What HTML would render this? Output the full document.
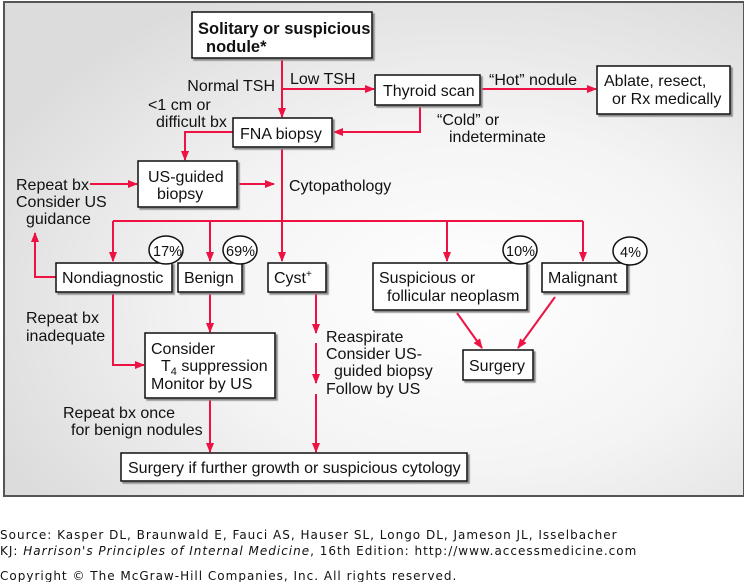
<!DOCTYPE html>
<html><head><meta charset="utf-8"><style>
html,body{margin:0;padding:0;background:#fff;width:744px;height:582px;overflow:hidden}
svg{display:block}
text{font-family:"Liberation Sans",Arial,sans-serif;font-size:16px;fill:#111}
.f{font-family:"DejaVu Sans",Verdana,sans-serif;font-size:12px;fill:#111;letter-spacing:1px}
</style></head><body>
<svg width="744" height="582" viewBox="0 0 744 582">
<defs>
<radialGradient id="bg" cx="0.62" cy="0.6" r="0.7">
<stop offset="0" stop-color="#ffffff"/><stop offset="0.5" stop-color="#f4f4f4"/><stop offset="1" stop-color="#dcdcdc"/>
</radialGradient>
<marker id="a" markerWidth="10" markerHeight="8" refX="9" refY="4" orient="auto" markerUnits="userSpaceOnUse">
<path d="M0,0 L10,4 L0,8 Z" fill="#ee1144"/></marker>
<filter id="sh"><feDropShadow dx="2" dy="2" stdDeviation="0.6" flood-color="#888"/></filter>
</defs>
<rect x="4" y="2" width="740" height="494" fill="url(#bg)" stroke="#555" stroke-width="2"/>
<g stroke="#ee1144" stroke-width="2" fill="none">
<line x1="282" y1="58" x2="282" y2="117" marker-end="url(#a)"/>
<line x1="282" y1="89" x2="374" y2="89" marker-end="url(#a)"/>
<line x1="480" y1="89" x2="596" y2="89" marker-end="url(#a)"/>
<polyline points="420,104 420,132 334,132" marker-end="url(#a)"/>
<polyline points="233,132 185,132 185,160" marker-end="url(#a)"/>
<line x1="237" y1="184" x2="274" y2="184" marker-end="url(#a)"/>
<line x1="90" y1="184" x2="137" y2="184" marker-end="url(#a)"/>
<line x1="282" y1="147" x2="282" y2="261" marker-end="url(#a)"/>
<line x1="113" y1="221" x2="583" y2="221"/>
<line x1="113" y1="221" x2="113" y2="261" marker-end="url(#a)"/>
<line x1="210" y1="221" x2="210" y2="261" marker-end="url(#a)"/>
<line x1="447" y1="221" x2="447" y2="261" marker-end="url(#a)"/>
<line x1="583" y1="221" x2="583" y2="261" marker-end="url(#a)"/>
<polyline points="56,277 35,277 35,233" marker-end="url(#a)"/>
<polyline points="113,292 113,365 144,365" marker-end="url(#a)"/>
<line x1="210" y1="292" x2="210" y2="332" marker-end="url(#a)"/>
<line x1="316" y1="292" x2="316" y2="333" marker-end="url(#a)"/>
<line x1="316" y1="343" x2="316" y2="383" marker-end="url(#a)"/>
<line x1="316" y1="394" x2="316" y2="452" marker-end="url(#a)"/>
<line x1="210" y1="398" x2="210" y2="452" marker-end="url(#a)"/>
<line x1="457" y1="313" x2="482" y2="348" marker-end="url(#a)"/>
<line x1="555" y1="297" x2="518" y2="348" marker-end="url(#a)"/>
</g>
<g fill="#fff" stroke="#111" stroke-width="1.5" filter="url(#sh)">
<rect x="192" y="12" width="180" height="46"/>
<rect x="375" y="75" width="105" height="30"/>
<rect x="597" y="66" width="133" height="48"/>
<rect x="233" y="118" width="99" height="29"/>
<rect x="138" y="161" width="99" height="46"/>
<rect x="56" y="263" width="116" height="29"/>
<rect x="178" y="263" width="64" height="29"/>
<rect x="268" y="263" width="58" height="29"/>
<rect x="373" y="263" width="154" height="47"/>
<rect x="542" y="263" width="85" height="29"/>
<rect x="463" y="350" width="70" height="30"/>
<rect x="145" y="333" width="130" height="65"/>
<rect x="121" y="453" width="346" height="28"/>
</g>
<g fill="#fff" stroke="#111" stroke-width="1.5">
<ellipse cx="166" cy="250" rx="17" ry="14"/>
<ellipse cx="240" cy="250" rx="17" ry="14"/>
<ellipse cx="520" cy="250" rx="17" ry="14"/>
<ellipse cx="630" cy="251" rx="17" ry="14"/>
</g>
<text x="198" y="34" style="font-weight:bold;font-size:16.5px">Solitary or suspicious</text>
<text x="206" y="52" style="font-weight:bold;font-size:16.5px">nodule*</text>
<text x="290" y="84">Low TSH</text>
<text x="275" y="91" text-anchor="end">Normal TSH</text>
<text x="148" y="110">&lt;1 cm or</text>
<text x="156" y="127">difficult bx</text>
<text x="240" y="139">FNA biopsy</text>
<text x="383" y="96">Thyroid scan</text>
<text x="489" y="85">“Hot” nodule</text>
<text x="604" y="86">Ablate, resect,</text>
<text x="612" y="104">or Rx medically</text>
<text x="437" y="125">“Cold” or</text>
<text x="449" y="142">indeterminate</text>
<text x="148" y="182">US-guided</text>
<text x="157" y="199">biopsy</text>
<text x="289" y="191">Cytopathology</text>
<text x="16" y="190">Repeat bx</text>
<text x="16" y="207">Consider US</text>
<text x="26" y="224">guidance</text>
<text x="153" y="256" style="font-size:14.5px">17%</text>
<text x="226" y="256" style="font-size:14.5px">69%</text>
<text x="506" y="256" style="font-size:14.5px">10%</text>
<text x="620" y="257" style="font-size:14.5px">4%</text>
<text x="62" y="283">Nondiagnostic</text>
<text x="184" y="283">Benign</text>
<text x="274" y="283">Cyst<tspan dy="-6" style="font-size:10px">+</tspan></text>
<text x="379" y="283">Suspicious or</text>
<text x="387" y="301">follicular neoplasm</text>
<text x="548" y="283">Malignant</text>
<text x="469" y="371">Surgery</text>
<text x="26" y="323">Repeat bx</text>
<text x="26" y="341">inadequate</text>
<text x="151" y="354">Consider</text>
<text x="161" y="371">T<tspan dy="4" style="font-size:11px">4</tspan><tspan dy="-4"> suppression</tspan></text>
<text x="151" y="389">Monitor by US</text>
<text x="326" y="342">Reaspirate</text>
<text x="326" y="359">Consider US-</text>
<text x="334" y="376">guided biopsy</text>
<text x="326" y="394">Follow by US</text>
<text x="63" y="418">Repeat bx once</text>
<text x="71" y="435">for benign nodules</text>
<text x="128" y="473">Surgery if further growth or suspicious cytology</text>
<text class="f" x="0" y="539">Source: Kasper DL, Braunwald E, Fauci AS, Hauser SL, Longo DL, Jameson JL, Isselbacher</text>
<text class="f" x="0" y="555">KJ: <tspan font-style="italic">Harrison's Principles of Internal Medicine</tspan>, 16th Edition: http://www.accessmedicine.com</text>
<text class="f" x="0" y="580">Copyright © The McGraw-Hill Companies, Inc. All rights reserved.</text>
</svg>
</body></html>
